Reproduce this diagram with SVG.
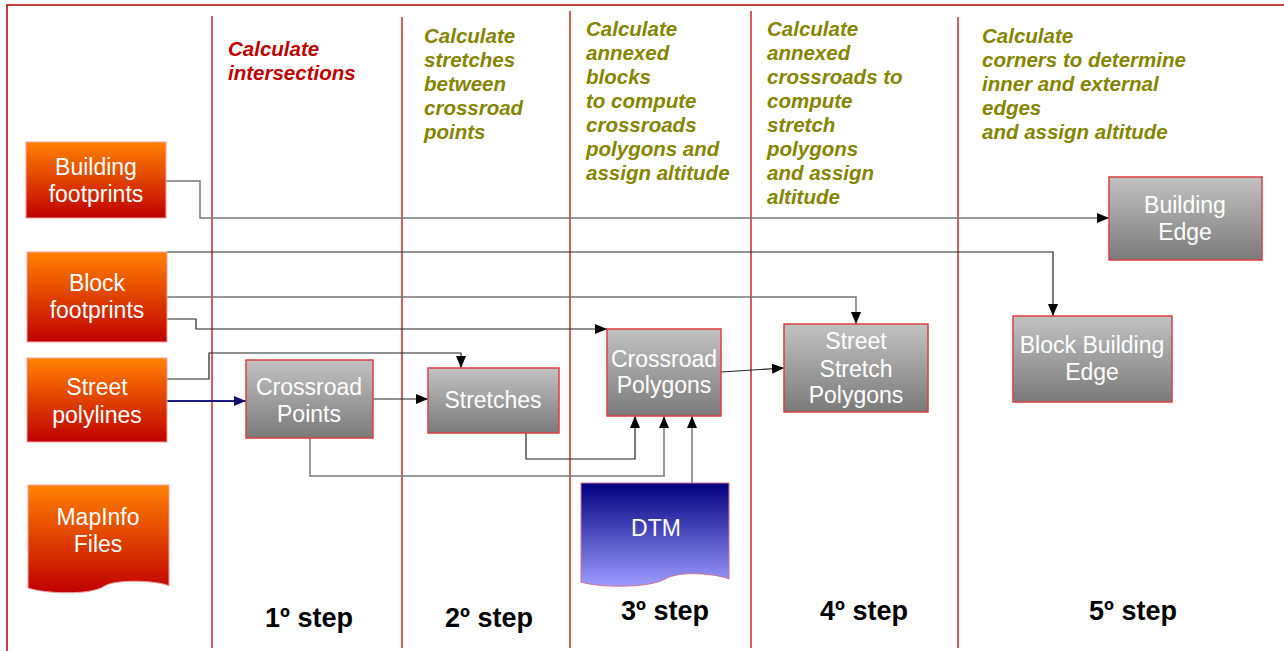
<svg xmlns="http://www.w3.org/2000/svg" width="1284" height="651" viewBox="0 0 1284 651">
<style>
.frame{stroke:#b00000;stroke-width:1.5;fill:none}
.sep{stroke:#c62828;stroke-width:1.5;fill:none}
.head{font-family:"Liberation Sans",Arial,sans-serif;font-size:20.5px;font-weight:bold;font-style:italic}
.red{fill:#c00000}
.olive{fill:#858500}
.step{font-family:"Liberation Sans",Arial,sans-serif;font-size:27px;font-weight:bold;fill:#000;text-anchor:middle}
.src{fill:url(#gOrange);stroke:#f3a3a3;stroke-width:1}
.proc{fill:url(#gGray);stroke:#d84040;stroke-width:1.5}
.dtm{fill:url(#gBlue);stroke:#d07090;stroke-width:1}
.lbl{font-family:"Liberation Sans",Arial,sans-serif;font-size:23px;fill:#fff;text-anchor:middle}
.c{fill:none;stroke:#222;stroke-width:1.2}
.cg{fill:none;stroke:#777;stroke-width:1.5}
.cb{fill:none;stroke:#1a1a80;stroke-width:1.8}
</style>
<defs>
<linearGradient id="gOrange" x1="0" y1="0" x2="0" y2="1"><stop offset="0" stop-color="#ff8200"/><stop offset="1" stop-color="#c00000"/></linearGradient>
<linearGradient id="gGray" x1="0" y1="0" x2="0" y2="1"><stop offset="0" stop-color="#c2c2c2"/><stop offset="1" stop-color="#7a7a7a"/></linearGradient>
<linearGradient id="gBlue" x1="0" y1="0" x2="0" y2="1"><stop offset="0" stop-color="#000080"/><stop offset="1" stop-color="#9c9cff"/></linearGradient>
<marker id="arr" viewBox="0 0 12 10" refX="12" refY="5" markerWidth="12" markerHeight="10" markerUnits="userSpaceOnUse" orient="auto"><path d="M0,0 L12,5 L0,10 Z" fill="#000"/></marker>
<marker id="arrB" viewBox="0 0 12 10" refX="12" refY="5" markerWidth="12" markerHeight="10" markerUnits="userSpaceOnUse" orient="auto"><path d="M0,0 L12,5 L0,10 Z" fill="#10106e"/></marker>
</defs>
<rect width="1284" height="651" fill="#fff"/>
<g id="frame">
<path class="frame" d="M7,651 V5 H1284"/>
<line class="sep" x1="212" y1="16" x2="212" y2="648"/>
<line class="sep" x1="402" y1="17" x2="402" y2="648"/>
<line class="sep" x1="570" y1="11" x2="570" y2="648"/>
<line class="sep" x1="751" y1="11" x2="751" y2="648"/>
<line class="sep" x1="958" y1="17" x2="958" y2="648"/>
</g>
<g id="headings">
<text class="head red" x="228" y="56">Calculate<tspan x="228" y="80">intersections</tspan></text>
<text class="head olive" x="424" y="43">Calculate<tspan x="424" y="67">stretches</tspan><tspan x="424" y="91">between</tspan><tspan x="424" y="115">crossroad</tspan><tspan x="424" y="139">points</tspan></text>
<text class="head olive" x="586" y="36">Calculate<tspan x="586" y="60">annexed</tspan><tspan x="586" y="84">blocks</tspan><tspan x="586" y="108">to compute</tspan><tspan x="586" y="132">crossroads</tspan><tspan x="586" y="156">polygons and</tspan><tspan x="586" y="180">assign altitude</tspan></text>
<text class="head olive" x="767" y="36">Calculate<tspan x="767" y="60">annexed</tspan><tspan x="767" y="84">crossroads to</tspan><tspan x="767" y="108">compute</tspan><tspan x="767" y="132">stretch</tspan><tspan x="767" y="156">polygons</tspan><tspan x="767" y="180">and assign</tspan><tspan x="767" y="204">altitude</tspan></text>
<text class="head olive" x="982" y="43">Calculate<tspan x="982" y="67">corners to determine</tspan><tspan x="982" y="91">inner and external</tspan><tspan x="982" y="115">edges</tspan><tspan x="982" y="139">and assign altitude</tspan></text>
</g>
<g id="steps">
<text class="step" x="309" y="627">1º step</text>
<text class="step" x="489" y="627">2º step</text>
<text class="step" x="665" y="620">3º step</text>
<text class="step" x="864" y="620">4º step</text>
<text class="step" x="1133" y="620">5º step</text>
</g>
<g id="connectors">
<path class="cg" d="M166,181 H200 V218 H1109" marker-end="url(#arr)"/>
<path class="c" d="M167,252 H1053 V316" marker-end="url(#arr)"/>
<path class="cg" d="M167,297 H856 V324" marker-end="url(#arr)"/>
<path class="c" d="M167,319 H196 V329 H607" marker-end="url(#arr)"/>
<path class="c" d="M167,379 H209 V353 H461 V368" marker-end="url(#arr)"/>
<path class="cb" d="M167,401 H246" marker-end="url(#arrB)"/>
<path class="c" d="M373,399 H428" marker-end="url(#arr)"/>
<path class="c" d="M526,433 V459 H635 V416" marker-end="url(#arr)"/>
<path class="cg" d="M310,438 V476 H664 V416" marker-end="url(#arr)"/>
<path class="cg" d="M692,483 V416" marker-end="url(#arr)"/>
<path class="c" d="M721,372 L784,368" marker-end="url(#arr)"/>
</g>
<g id="building-footprints">
<rect class="src" x="26" y="142" width="140" height="76"/>
<text class="lbl" x="96" y="175">Building<tspan x="96" y="202">footprints</tspan></text>
</g>
<g id="block-footprints">
<rect class="src" x="27" y="252" width="140" height="90"/>
<text class="lbl" x="97" y="291">Block<tspan x="97" y="318">footprints</tspan></text>
</g>
<g id="street-polylines">
<rect class="src" x="27" y="358" width="140" height="84"/>
<text class="lbl" x="97" y="395">Street<tspan x="97" y="423">polylines</tspan></text>
</g>
<g id="mapinfo-files">
<path class="src" d="M28,485 H169 V586 C160,581 115,578 103,587 C90,595 45,594 28,588 Z"/>
<text class="lbl" x="98" y="525">MapInfo<tspan x="98" y="552">Files</tspan></text>
</g>
<g id="crossroad-points">
<rect class="proc" x="246" y="360" width="127" height="78"/>
<text class="lbl" x="309" y="395">Crossroad<tspan x="309" y="422">Points</tspan></text>
</g>
<g id="stretches">
<rect class="proc" x="428" y="368" width="131" height="65"/>
<text class="lbl" x="493" y="408">Stretches</text>
</g>
<g id="crossroad-polygons">
<rect class="proc" x="607" y="329" width="114" height="87"/>
<text class="lbl" x="664" y="367">Crossroad<tspan x="664" y="393">Polygons</tspan></text>
</g>
<g id="street-stretch-polygons">
<rect class="proc" x="784" y="324" width="144" height="88"/>
<text class="lbl" x="856" y="349">Street<tspan x="856" y="377">Stretch</tspan><tspan x="856" y="403">Polygons</tspan></text>
</g>
<g id="building-edge">
<rect class="proc" x="1109" y="177" width="153" height="83"/>
<text class="lbl" x="1185" y="213">Building<tspan x="1185" y="240">Edge</tspan></text>
</g>
<g id="block-building-edge">
<rect class="proc" x="1013" y="316" width="159" height="86"/>
<text class="lbl" x="1092" y="353">Block Building<tspan x="1092" y="380">Edge</tspan></text>
</g>
<g id="dtm">
<path class="dtm" d="M581,483 H729 V579 C718,574 680,570 665,579 C650,588 600,588 581,582 Z"/>
<text class="lbl" x="656" y="536">DTM</text>
</g>
</svg>
